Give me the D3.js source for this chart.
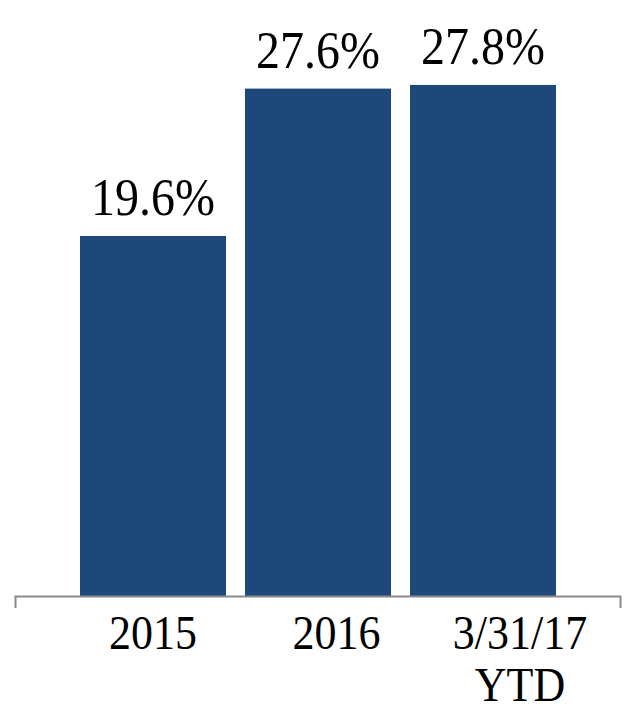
<!DOCTYPE html>
<html>
<head>
<meta charset="utf-8">
<script src="https://cdn.jsdelivr.net/npm/d3@7"></script>
<style>
  html, body { margin: 0; padding: 0; background: #fff; }
  svg { display: block; }
  text { font-family: "Liberation Serif", "Times New Roman", serif; fill: #000; }
</style>
</head>
<body>
<svg id="chart" width="634" height="712"></svg>
<script>
const categories = ["2015", "2016", "3/31/17\nYTD"];
const values = [19.6, 27.6, 27.8];
const valueLabels = ["19.6%", "27.6%", "27.8%"];

const svg = d3.select("#chart");
const baseY = 597;

const x = d3.scaleBand().domain(categories).range([80, 556]).paddingInner(0.115).paddingOuter(0);
const y = d3.scaleLinear().domain([0, 30]).range([baseY, baseY - 30 * 18.42]);
const xLab = d3.scalePoint().domain(categories).range([153, 520]);
const xAxisScale = d3.scaleBand().domain(categories).range([15, 620]);

// bars
svg.append("g").selectAll("rect").data(values).join("rect")
  .attr("x", (d, i) => x(categories[i]))
  .attr("y", d => y(d))
  .attr("width", x.bandwidth())
  .attr("height", d => baseY - y(d))
  .attr("fill", "#1F487A");

// axis line with outer ticks
const axis = d3.axisBottom(xAxisScale).tickSizeInner(0).tickSizeOuter(12).tickFormat("");
const ag = svg.append("g").attr("transform", `translate(0,${baseY - 1})`).call(axis);
ag.select(".domain").attr("stroke", "#8a8a8a").attr("stroke-width", 2);
ag.selectAll(".tick").remove();

// value labels
svg.append("g").selectAll("text").data(values).join("text")
  .attr("transform", (d, i) => `translate(${x(categories[i]) + x.bandwidth() / 2},${y(d) - 21}) scale(1,1.11)`)
  .attr("text-anchor", "middle")
  .attr("font-size", 48)
  .text((d, i) => valueLabels[i]);

// category labels
const lg = svg.append("g");
categories.forEach(c => {
  const lines = c.split("\n");
  lines.forEach((ln, j) => {
    lg.append("text")
      .attr("transform", `translate(${xLab(c)},${649 + j * 52}) scale(1,1.12)`)
      .attr("text-anchor", "middle")
      .attr("font-size", 44)
      .text(ln);
  });
});
</script>
</body>
</html>
